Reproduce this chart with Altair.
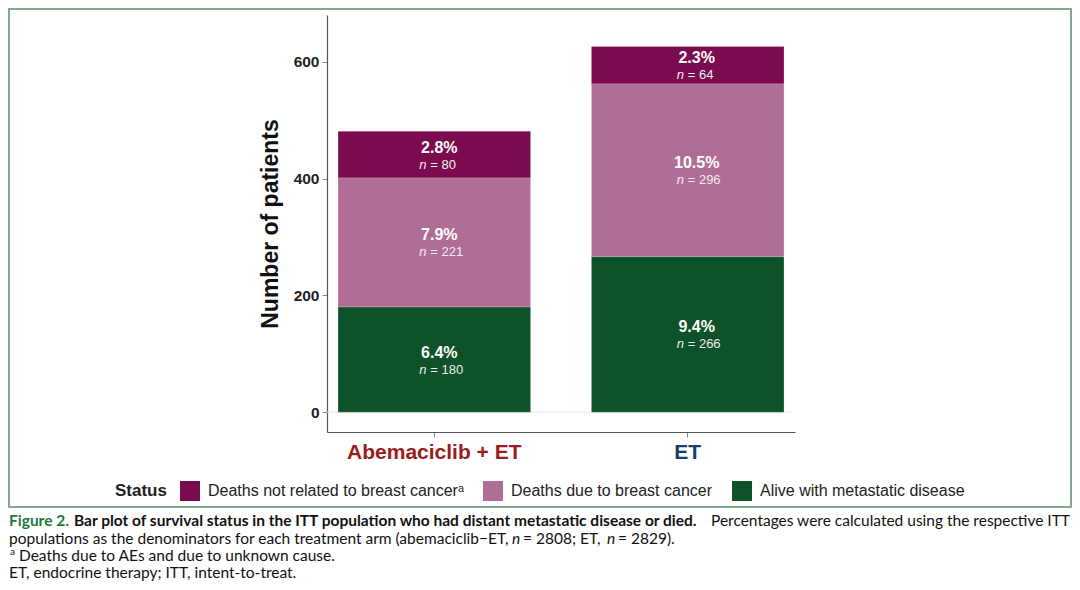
import altair as alt
import pandas as pd

# ---------------- data ----------------
arms = ["Abemaciclib + ET", "ET"]
statuses = ["Deaths not related to breast cancer\u1d43",
            "Deaths due to breast cancer",
            "Alive with metastatic disease"]
stack_order = [2, 1, 0]  # bottom = alive
colors = ["#7b0b4f", "#b06e97", "#0d5229"]
counts_abema = [80, 221, 180]
counts_et = [64, 296, 266]
pct_abema = ["2.8%", "7.9%", "6.4%"]
pct_et = ["2.3%", "10.5%", "9.4%"]
y_ticks = [0, 200, 400, 600]

rows = []
for arm, cnts, pcts in [(arms[0], counts_abema, pct_abema), (arms[1], counts_et, pct_et)]:
    for s, o, c, p in zip(statuses, stack_order, cnts, pcts):
        rows.append({"arm": arm, "status": s, "order": o, "count": c,
                     "pct": p, "nlab": "= " + str(c)})
df = pd.DataFrame(rows)

FONT = "Liberation Sans"
CAP = "Lato"
CAPSIZE = 15.5

base = alt.Chart(df).transform_stack(
    stack="count", groupby=["arm"], as_=["y0", "y1"],
    sort=[alt.SortField("order", order="ascending")]
).transform_calculate(mid="(datum.y0 + datum.y1) / 2")

xenc = alt.X("arm:N", sort=arms,
             scale=alt.Scale(domain=arms, paddingInner=0.24, paddingOuter=0.0435),
             axis=alt.Axis(title=None, labelFont=FONT, labelFontSize=21,
                           labelFontWeight="bold", labelAngle=0, labelPadding=4,
                           labelColor=alt.expr("datum.value == 'ET' ? '#1c3a6e' : '#9b1c20'"),
                           tickColor="#888888", tickSize=5, domainColor="#555555",
                           domainWidth=1.2, labelLimit=400))
yscale = alt.Scale(domain=[-34, 680], nice=False, zero=False)

bars = base.mark_bar(stroke="#ffffff", strokeOpacity=0.35, strokeWidth=0.6).encode(
    x=xenc,
    y=alt.Y("y0:Q", scale=yscale,
            axis=alt.Axis(values=y_ticks, title="Number of patients",
                          titleFont=FONT, titleFontSize=23, titleFontWeight="bold",
                          titleColor="#111111", titlePadding=11,
                          labelFont=FONT, labelFontSize=15.5, labelFontWeight="bold",
                          labelColor="#222222", tickColor="#888888", tickSize=5,
                          labelPadding=3, domainColor="#555555", domainWidth=1.2,
                          grid=False)),
    y2="y1:Q",
    color=alt.Color("status:N",
                    scale=alt.Scale(domain=statuses, range=colors),
                    legend=alt.Legend(orient="none", legendX=-212, legendY=466,
                                      direction="horizontal", title="Status",
                                      titleOrient="left", titleFont=FONT,
                                      titleFontSize=17, titleFontWeight="bold",
                                      titleColor="#222222", titlePadding=13,
                                      titleBaseline="middle",
                                      symbolType="square", symbolSize=400,
                                      symbolStrokeWidth=0, symbolOpacity=1,
                                      labelFont=FONT, labelFontSize=16,
                                      labelColor="#222222", labelOffset=8,
                                      columnPadding=19, labelLimit=400)),
)

zero_rule = alt.Chart(alt.Data(values=[{"v": 0}])).mark_rule(
    color="#e6e6e6", strokeWidth=1).encode(
    y=alt.Y("v:Q", scale=yscale), x=alt.value(0), x2=alt.value(466))

layers = [zero_rule, bars]

label_dx = {arms[0]: (5, -15), arms[1]: (9, -11)}
for arm in arms:
    pdx, ndx = label_dx[arm]
    sub = base.transform_filter(alt.datum.arm == arm)
    layers.append(sub.mark_text(font=FONT, fontSize=16, fontWeight="bold",
                                color="white", dx=pdx, dy=-7).encode(
        x=alt.X("arm:N", sort=arms), y=alt.Y("mid:Q"), text="pct:N"))
    layers.append(sub.mark_text(font=FONT, fontSize=13, fontStyle="italic",
                                color="#eeeeee", align="left", dx=ndx, dy=10).encode(
        x=alt.X("arm:N", sort=arms), y=alt.Y("mid:Q"), text=alt.value("n")))
    layers.append(sub.mark_text(font=FONT, fontSize=13,
                                color="#eeeeee", align="left", dx=ndx + 11, dy=10).encode(
        x=alt.X("arm:N", sort=arms), y=alt.Y("mid:Q"), text="nlab:N"))

# frame around the figure
one = alt.Data(values=[{"k": 1}])
frame = alt.Chart(one).mark_rect(filled=False, stroke="#7fa98a", strokeWidth=2).encode(
    x=alt.value(-318), x2=alt.value(744), y=alt.value(-6), y2=alt.value(492))
layers.append(frame)

# caption (page coords -> plot coords: x - 327, y - 15)
def cap(text, px, py, weight="normal", style="normal", color="#111111", size=CAPSIZE,
        align="left"):
    return alt.Chart(one).mark_text(text=text, font=CAP, fontSize=size,
                                    fontWeight=weight, fontStyle=style, color=color,
                                    align=align, baseline="middle").encode(
        x=alt.value(px - 327), y=alt.value(py - 15))

caps = [
    cap("Figure 2.", 9, 521, weight="bold", color="#1d7a3c"),
    cap("Bar plot of survival status in the ITT population who had distant metastatic disease or died.",
        74, 521, weight="bold"),
    cap("Percentages were calculated using the respective ITT", 1070, 521, align="right"),
    cap("populations as the denominators for each treatment arm (abemaciclib\u2212ET,", 9, 539),
    cap("n", 512, 539, style="italic"),
    cap("= 2808; ET,", 523, 539),
    cap("n", 607, 539, style="italic"),
    cap("= 2829).", 618, 539),
    cap("a", 10, 552, size=10),
    cap("Deaths due to AEs and due to unknown cause.", 19, 556),
    cap("ET, endocrine therapy; ITT, intent-to-treat.", 9, 573),
]
layers += caps

chart = alt.layer(*layers).properties(
    width=468, height=417,
    autosize=alt.AutoSizeParams(type="none"),
    padding={"left": 319, "top": 7, "right": 277, "bottom": 150},
    background="white",
).configure_view(stroke=None)

chart.save("out.html", embed_options={"renderer": "svg", "actions": False})
